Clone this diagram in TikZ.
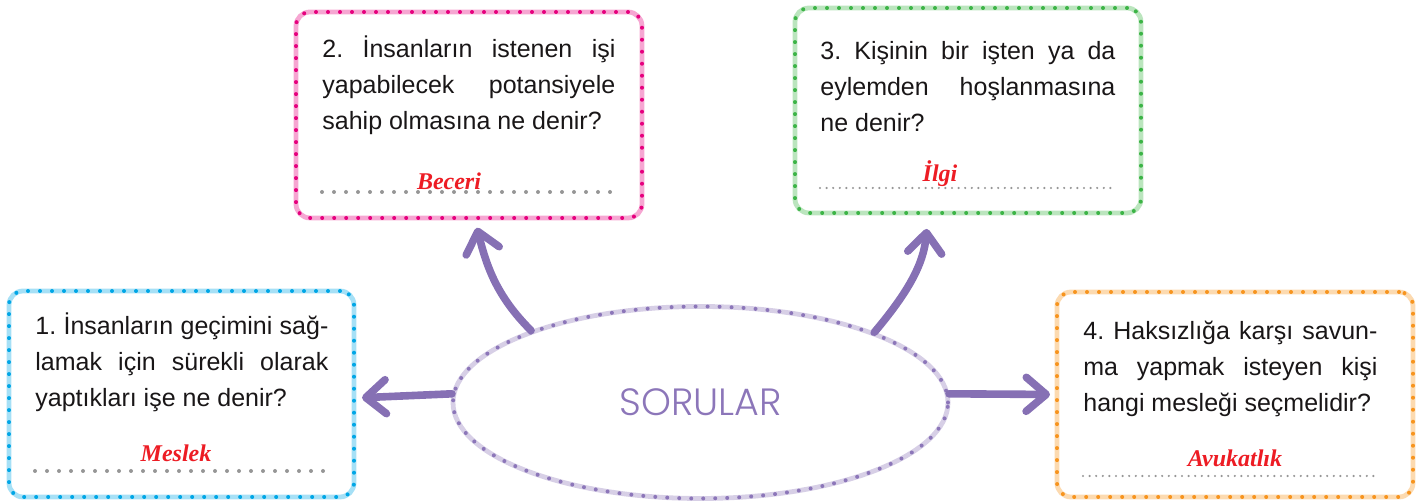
\documentclass[tikz,border=0pt]{standalone}
\usepackage{fontspec}
\setmainfont{Liberation Sans}
\newfontfamily\answerfont{Liberation Serif}
\newfontfamily\titlefont{Poppins}[UprightFont=* Light]
\usetikzlibrary{shapes.geometric,arrows.meta,calc}

\definecolor{qblack}{RGB}{25,22,23}
\definecolor{answerred}{RGB}{237,28,36}
\definecolor{dotblue}{RGB}{0,166,230}
\definecolor{dotpink}{RGB}{230,0,126}
\definecolor{dotgreen}{RGB}{60,180,70}
\definecolor{dotorange}{RGB}{247,148,30}
\definecolor{dotgray}{RGB}{150,150,150}
\definecolor{ellpurple}{RGB}{140,118,185}
\definecolor{arrowpurple}{RGB}{134,112,180}

\frenchspacing
\tikzset{
  qbox/.style={rectangle, rounded corners=7pt, minimum height=103pt,
    draw=#1, line width=2pt, line cap=round, dash pattern=on 0pt off 6pt,
    preaction={draw=#1!35, solid, line width=2.4pt}},
  qtext/.style={anchor=base west, inner sep=0pt, text width=146.5pt,
    align=justify, text=qblack,
    font={\fontsize{12.5}{18}\selectfont\tolerance=9999\hyphenpenalty=10000}},
  answer/.style={anchor=base, inner sep=0pt, text=answerred,
    font={\answerfont\bfseries\itshape\fontsize{12}{13}\selectfont}},
  dotline/.style={draw=dotgray, line width=2pt, line cap=round,
    dash pattern=on 0pt off 6pt},
  thindotline/.style={draw=dotgray, line width=1.2pt, line cap=round,
    dash pattern=on 0pt off 3.3pt},
  bigarrow/.style={-{Straight Barb[round,length=10pt,width=17pt]},
    draw=arrowpurple, line width=3.8pt, line cap=round}
}

\begin{document}
\begin{tikzpicture}[x=0.5pt, y=0.5pt]
  \useasboundingbox (0,0) rectangle (1421,501);

  % question boxes
  \node[qbox=dotblue, minimum width=172.5pt] (b1) at (181.5,107) {};
  \node[qbox=dotpink, minimum width=173pt] (b2) at (469,386) {};
  \node[qbox=dotgreen, minimum width=173pt, minimum height=102.5pt] (b3) at (968,390.5) {};
  \node[qbox=dotorange, minimum width=178pt, minimum height=102.5pt] (b4) at (1235,106.5) {};

  % questions
  \node[qtext] (q1) at (35,166) {1. İnsanların geçimini sağ-\linebreak lamak için sürekli olarak\linebreak yaptıkları işe ne denir?};
  \node[qtext] (q2) at (322,443) {2. İnsanların istenen işi\linebreak yapabilecek potansiyele\linebreak sahip olmasına ne denir?};
  \node[qtext, text width=147.5pt] (q3) at (820,441) {3. Kişinin bir işten ya da\linebreak eylemden hoşlanmasına\linebreak ne denir?};
  \node[qtext, text width=147pt] (q4) at (1083,161) {4. Haksızlığa karşı savun-\linebreak ma yapmak isteyen kişi\linebreak hangi mesleği seçmelidir?};

  % answer lines
  \draw[dotline] (35,30) -- (330,30);
  \draw[dotline] (322,309) -- (617,309);
  \draw[thindotline] (820,313) -- (1116,313);
  \draw[thindotline] (1083,25) -- (1377,25);

  \node[answer] (a1) at (176,39) {Meslek};
  \node[answer] (a2) at (449,311) {Beceri};
  \node[answer] (a3) at (940,319) {İlgi};
  \node[answer] (a4) at (1235,34) {Avukatlık};

  % centre
  \node[ellipse, minimum width=247.5pt, minimum height=96pt, inner sep=0pt,
    draw=ellpurple, line width=2pt, line cap=round, dash pattern=on 0pt off 6pt,
    preaction={draw=ellpurple!35, solid, line width=2.4pt},
    text=ellpurple, font={\titlefont\fontsize{19}{22}\selectfont}] (soru) at (700.5,98.5) {SORULAR};

  % arrows
  \draw[bigarrow, shorten >=3pt] (soru.178) -- ($(b1.east)+(0,-4)$);
  \draw[bigarrow, shorten >=4pt] (soru.157) to[out=135, in=-76] ($(b2.south)+(6,0)$);
  \draw[bigarrow, shorten >=7pt] (soru.22) to[out=50, in=-95] ($(b3.south)+(-40,0)$);
  \draw[bigarrow, shorten >=2.5pt] (soru.2) -- (b4.west);
\end{tikzpicture}
\end{document}
